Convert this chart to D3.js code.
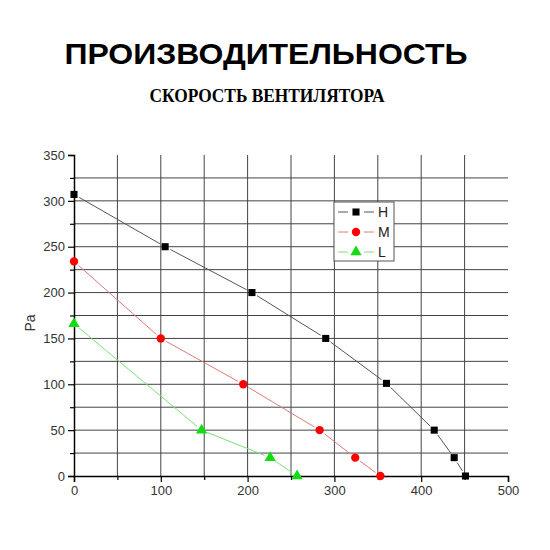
<!DOCTYPE html>
<html>
<head>
<meta charset="utf-8">
<script src="https://cdn.jsdelivr.net/npm/d3@7"></script>
<style>
  body { margin: 0; background: #fff; }
</style>
</head>
<body>
<div id="chart"></div>
<script>
// Данные
const flowH = [0, 105, 205, 290, 360, 415, 438, 451];
const paH   = [307, 250, 200, 150, 101, 50, 20, 0];
const flowM = [0, 100, 195, 283, 324, 353];
const paM   = [234, 150, 100, 50, 20, 0];
const flowL = [0, 147, 226, 257];
const paL   = [166, 50, 20, 0];

const xTicks = [0, 100, 200, 300, 400, 500];
const yTicks = [0, 50, 100, 150, 200, 250, 300, 350];

const series = [
    { name: "H", xs: flowH, ys: paH, line: "#555", fill: "#000", shape: d3.symbolSquare, size: 50 },
    { name: "M", xs: flowM, ys: paM, line: "#e07a7a", fill: "#ff0000", shape: d3.symbolCircle, size: 55 },
    { name: "L", xs: flowL, ys: paL, line: "#7ae07a", fill: "#11dd11", shape: d3.symbolTriangle, size: 55 }
];

const svg = d3.select("#chart").append("svg")
    .attr("width", 550)
    .attr("height", 550);

// Заголовки
svg.append("text")
    .attr("x", 266).attr("y", 64)
    .attr("text-anchor", "middle")
    .attr("font-family", "Liberation Sans, Arial, sans-serif")
    .attr("font-weight", "bold")
    .attr("font-size", "30px")
    .attr("textLength", 403)
    .attr("lengthAdjust", "spacingAndGlyphs")
    .text("ПРОИЗВОДИТЕЛЬНОСТЬ");

svg.append("text")
    .attr("x", 267).attr("y", 102)
    .attr("text-anchor", "middle")
    .attr("font-family", "Liberation Serif, Times New Roman, serif")
    .attr("font-weight", "bold")
    .attr("font-size", "18px")
    .attr("textLength", 235)
    .attr("lengthAdjust", "spacingAndGlyphs")
    .text("СКОРОСТЬ ВЕНТИЛЯТОРА");

const x = d3.scaleLinear().domain([0, 500]).range([74, 508]);
const y = d3.scaleLinear().domain([0, 350]).range([476, 155]);

// Сетка
const grid = svg.append("g").attr("stroke", "#444").attr("stroke-width", 1);
grid.selectAll("line.v")
    .data(d3.range(50, 500, 50))
    .enter().append("line")
    .attr("x1", d => x(d)).attr("x2", d => x(d))
    .attr("y1", y(0)).attr("y2", y(350));
grid.selectAll("line.h")
    .data(d3.range(25, 350, 25))
    .enter().append("line")
    .attr("x1", x(0)).attr("x2", x(500))
    .attr("y1", d => y(d)).attr("y2", d => y(d));

// Оси
const font = "Liberation Sans, Arial, sans-serif";
svg.append("g")
    .attr("transform", `translate(0,${y(0)})`)
    .call(d3.axisBottom(x).tickValues(xTicks).tickSize(6).tickPadding(4));
svg.append("g")
    .attr("transform", `translate(0,${y(0)})`)
    .call(d3.axisBottom(x).tickValues(d3.range(50, 500, 100)).tickSize(4).tickFormat(""))
    .select(".domain").remove();
svg.append("g")
    .attr("transform", `translate(${x(0)},0)`)
    .call(d3.axisLeft(y).tickValues(yTicks).tickSize(6).tickPadding(3));
svg.append("g")
    .attr("transform", `translate(${x(0)},0)`)
    .call(d3.axisLeft(y).tickValues(d3.range(25, 350, 50)).tickSize(4).tickFormat(""))
    .select(".domain").remove();

svg.selectAll(".domain").attr("stroke", "#000").attr("stroke-width", 1.5);
svg.selectAll(".tick line").attr("stroke", "#000").attr("stroke-width", 1.2);
svg.selectAll(".tick text")
    .attr("font-family", font)
    .attr("font-size", "13px")
    .attr("fill", "#333");

svg.append("text")
    .attr("transform", "translate(35,323) rotate(-90)")
    .attr("text-anchor", "middle")
    .attr("font-family", font)
    .attr("font-size", "14px")
    .attr("fill", "#333")
    .text("Pa");

// Линии с разрывами у маркеров
const gap = 6;
series.forEach(s => {
    const pts = s.xs.map((v, i) => [x(v), y(s.ys[i])]);
    const g = svg.append("g");
    for (let i = 0; i < pts.length - 1; i++) {
        const [x1, y1] = pts[i];
        const [x2, y2] = pts[i + 1];
        const len = Math.hypot(x2 - x1, y2 - y1);
        if (len <= gap * 2) continue;
        const ux = (x2 - x1) / len, uy = (y2 - y1) / len;
        g.append("line")
            .attr("x1", x1 + ux * gap).attr("y1", y1 + uy * gap)
            .attr("x2", x2 - ux * gap).attr("y2", y2 - uy * gap)
            .attr("stroke", s.line)
            .attr("stroke-width", 1);
    }
    g.selectAll("path")
        .data(pts)
        .enter().append("path")
        .attr("transform", d => `translate(${d[0]},${d[1]})`)
        .attr("d", d3.symbol().type(s.shape).size(s.size))
        .attr("fill", s.fill);
});

// Легенда
const legend = svg.append("g").attr("transform", "translate(334,202)");
legend.append("rect")
    .attr("width", 60).attr("height", 59)
    .attr("fill", "#fff")
    .attr("stroke", "#555")
    .attr("stroke-width", 1);
series.forEach((s, i) => {
    const ly = 10 + i * 20;
    legend.append("line")
        .attr("x1", 4).attr("x2", 14).attr("y1", ly).attr("y2", ly)
        .attr("stroke", s.line);
    legend.append("line")
        .attr("x1", 30).attr("x2", 40).attr("y1", ly).attr("y2", ly)
        .attr("stroke", s.line);
    legend.append("path")
        .attr("transform", `translate(22,${ly})`)
        .attr("d", d3.symbol().type(s.shape).size(s.size))
        .attr("fill", s.fill);
    legend.append("text")
        .attr("x", 44).attr("y", ly + 5)
        .attr("font-family", font)
        .attr("font-size", "14px")
        .attr("fill", "#222")
        .text(s.name);
});
</script>
</body>
</html>
